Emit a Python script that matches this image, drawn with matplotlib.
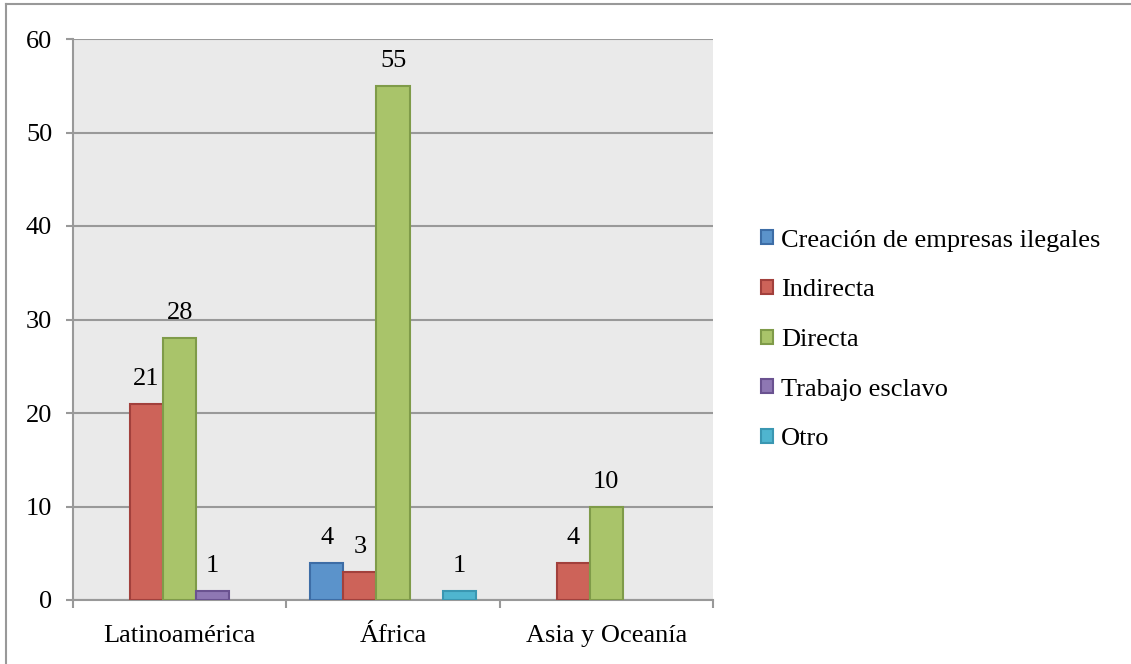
import matplotlib.pyplot as plt
import numpy as np
from matplotlib.lines import Line2D

plt.rcParams['font.family'] = ['Liberation Serif', 'DejaVu Serif']

# datos
regiones = ["Latinoamérica", "África", "Asia y Oceanía"]
series = ["Creación de empresas ilegales", "Indirecta", "Directa",
          "Trabajo esclavo", "Otro"]
creacion = [0, 4, 0]
indirecta = [21, 3, 4]
directa = [28, 55, 10]
esclavo = [1, 0, 0]
otro = [0, 1, 0]
valores = [creacion, indirecta, directa, esclavo, otro]

rellenos = ["#5B93CB", "#CD6359", "#A9C46A", "#8E77B3", "#4FB5CF"]
bordes = ["#3D6DA6", "#A2403C", "#7F9B49", "#6A5290", "#3A97B2"]

W, H = 1131, 664
fs = 19
fig = plt.figure(figsize=(W/100, H/100), dpi=100)
ax = fig.add_axes([73/W, 1-600/H, (713-73)/W, (600-39)/H])
ax.set_facecolor("#EAEAEA")

x = np.arange(len(regiones))
ancho = 0.155
for i in range(len(series)):
    v = np.array(valores[i], dtype=float)
    pos = x + (i-2)*ancho
    hay = v > 0   # las barras en cero no se dibujan
    ax.bar(pos[hay], v[hay], width=ancho, color=rellenos[i],
           edgecolor=bordes[i], linewidth=1.5, label=series[i], zorder=3)
    for p, val in zip(pos[hay], v[hay]):
        ax.annotate("%d" % val, (p, val), xytext=(0, 13.5),
                    textcoords="offset points", ha="center",
                    va="baseline", fontsize=fs)

ax.set_xlim(-0.5, 2.5)
ax.set_ylim(0, 60)
ax.set_yticks(np.arange(0, 61, 10))
ax.yaxis.grid(True, color="#999999", linewidth=1.5)
ax.set_axisbelow(True)

# marcas entre categorias, etiquetas en el centro
ax.set_xticks([-0.5, 0.5, 1.5, 2.5])
ax.set_xticklabels([])
ax.set_xticks(x, minor=True)
ax.set_xticklabels(regiones, minor=True, fontsize=fs)
ax.tick_params(axis="x", which="major", length=6, width=1.5, color="#999999")
ax.tick_params(axis="x", which="minor", length=0, pad=18)
ax.tick_params(axis="y", length=5, width=1.5, color="#999999", pad=10,
               labelsize=fs)

for s in ["top", "right"]:
    ax.spines[s].set_visible(False)
for s in ["left", "bottom"]:
    ax.spines[s].set_color("#999999")
    ax.spines[s].set_linewidth(1.5)

fig.legend(loc="center left", bbox_to_anchor=(761/W, 1-340/H), frameon=False,
           fontsize=fs, handlelength=0.45, handleheight=0.45,
           handletextpad=0.3, labelspacing=1.05, borderpad=0, borderaxespad=0)

# borde exterior (solo arriba e izquierda visibles)
fig.add_artist(Line2D([6/W, 6/W], [0, 1-4/H], color="#999999", linewidth=1.5))
fig.add_artist(Line2D([6/W, 1], [1-4/H, 1-4/H], color="#999999", linewidth=1.5))

fig.savefig("out.png", dpi=100)
